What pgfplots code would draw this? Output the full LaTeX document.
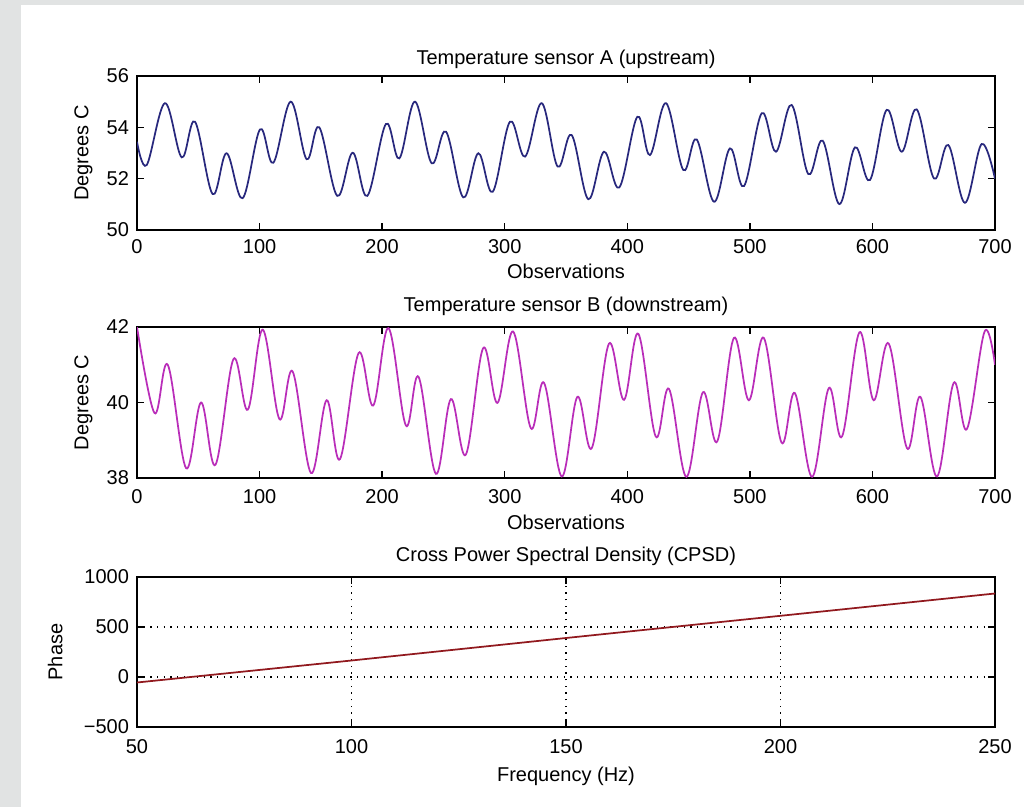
\documentclass[border=0pt]{standalone}
\usepackage{fontspec}
\setmainfont{Liberation Sans}
\usepackage{pgfplots}
\pgfplotsset{compat=1.18}

\definecolor{bgray}{RGB}{225,227,227}
\definecolor{seriesA}{RGB}{40,40,125}
\definecolor{seriesB}{RGB}{185,45,185}
\definecolor{cpsd}{RGB}{145,25,30}

% peaks and troughs
\pgfplotstableread{
x y
0 53.44
7.9 52.53
22.8 54.94
36.5 52.83
47.3 54.22
61.7 51.40
73.1 52.99
86.2 51.24
100.4 53.92
111.2 52.62
125.4 55.00
138.4 52.76
148.7 54.00
163.4 51.33
176.0 53.01
187.9 51.33
203.1 54.13
214.0 52.79
226.8 55.00
240.4 52.60
252.1 53.83
266.2 51.27
278.5 52.99
290.2 51.49
304.3 54.22
316.6 52.86
330.2 54.94
343.2 52.47
354.6 53.70
368.2 51.20
381.0 53.05
393.5 51.66
408.2 54.41
418.5 52.92
431.6 54.94
445.7 52.34
456.6 53.53
470.8 51.10
483.8 53.18
495.2 51.71
509.7 54.55
521.3 53.05
534.1 54.87
547.7 52.18
559.4 53.48
573.0 51.01
585.8 53.22
598.0 51.95
611.6 54.68
623.9 53.05
636.1 54.70
650.2 52.01
661.9 53.31
675.5 51.06
689.1 53.35
700 52.00
}\sensorA

\pgfplotstableread{
x y
0 42.00
14.3 39.72
25.1 41.00
40.1 38.26
52.3 40.00
64.0 38.35
78.7 41.15
90.4 39.81
102.6 41.93
116.2 39.56
127.0 40.82
142.0 38.13
154.7 40.06
165.6 38.50
180.8 41.31
192.7 39.92
205.2 41.97
219.4 39.39
229.7 40.68
243.9 38.11
256.1 40.09
268.3 38.62
282.4 41.44
294.1 39.99
306.9 41.88
321.3 39.32
332.1 40.52
346.5 38.04
359.3 40.15
371.0 38.79
385.1 41.56
397.3 40.07
409.0 41.82
423.2 39.10
434.0 40.36
448.2 38.03
461.7 40.27
473.4 38.97
487.0 41.71
499.2 40.06
511.4 41.71
525.8 38.94
536.7 40.25
550.8 38.03
564.4 40.38
575.2 39.10
589.4 41.86
601.0 40.06
613.3 41.56
628.2 38.79
639.1 40.15
652.7 38.04
666.3 40.52
677.1 39.30
691.5 41.88
700 41.00
}\sensorB

\pgfplotstableread{
x y
50 -55
100 165
150 390
200 612
250 835
}\phase

\pgfplotsset{
  mlab/.style={
    scale only axis,
    width=643.5pt,
    font=\fontsize{15}{17}\selectfont,
    /pgf/number format/assume math mode=true,
    axis line style={line width=1.3pt},
    tick style={black,line width=1pt},
    major tick length=5pt,
    tick align=inside,
    yticklabel style={anchor=east,xshift=-2.5pt},
    title style={at={(0.5,1)},anchor=base},
    xlabel style={at={(0.5,0)},anchor=base},
    ylabel style={anchor=base},
  },
}

\begin{document}
\begin{tikzpicture}
\fill[bgray] (0,0) rectangle (768pt,605.25pt);
\fill[white] (15.75pt,0) rectangle (768pt,601.5pt);

\begin{axis}[mlab,
  at={(102.75pt,432.75pt)}, anchor=south west,
  height=115.5pt,
  xmin=0, xmax=700, ymin=50, ymax=56,
  xtick={0,100,...,700}, ytick={50,52,54,56},
  xticklabel style={anchor=base,yshift=-17.6pt},
  title={Temperature sensor A (upstream)},
  title style={yshift=2.6pt},
  xlabel={Observations},
  xlabel style={yshift=-36.4pt},
  ylabel={Degrees C},
  ylabel style={at={(axis description cs:-0.0566,0.5)}},
]
\addplot[seriesA, line width=1.3pt, smooth, tension=0.6] table {\sensorA};
\end{axis}

\begin{axis}[mlab,
  at={(102.75pt,246.75pt)}, anchor=south west,
  height=113.25pt,
  xmin=0, xmax=700, ymin=38, ymax=42,
  xtick={0,100,...,700}, ytick={38,40,42},
  xticklabel style={anchor=base,yshift=-19pt},
  title={Temperature sensor B (downstream)},
  title style={yshift=5.6pt},
  xlabel={Observations},
  xlabel style={yshift=-38.6pt},
  ylabel={Degrees C},
  ylabel style={at={(axis description cs:-0.0566,0.5)}},
]
\addplot[seriesB, line width=1.3pt, smooth, tension=0.6] table {\sensorB};
\end{axis}

\begin{axis}[mlab,
  at={(102.75pt,60pt)}, anchor=south west,
  height=112.5pt,
  xmin=50, xmax=250, ymin=-500, ymax=1000,
  xtick={50,100,150,200,250}, ytick={-500,0,500,1000},
  yticklabels={−500,0,500,1000},
  xticklabel style={anchor=base,yshift=-19.9pt},
  grid=major,
  grid style={black,line width=1pt,dash pattern=on 1pt off 4pt},
  title={Cross Power Spectral Density (CPSD)},
  title style={yshift=5.6pt},
  xlabel={Frequency (Hz)},
  xlabel style={yshift=-40.9pt},
  ylabel={Phase},
  ylabel style={at={(axis description cs:-0.0869,0.5)}},
]
\addplot[cpsd, line width=1.3pt] table {\phase};
\end{axis}

\pgfresetboundingbox
\path (0,0) rectangle (768pt,605.25pt);
\end{tikzpicture}
\end{document}
